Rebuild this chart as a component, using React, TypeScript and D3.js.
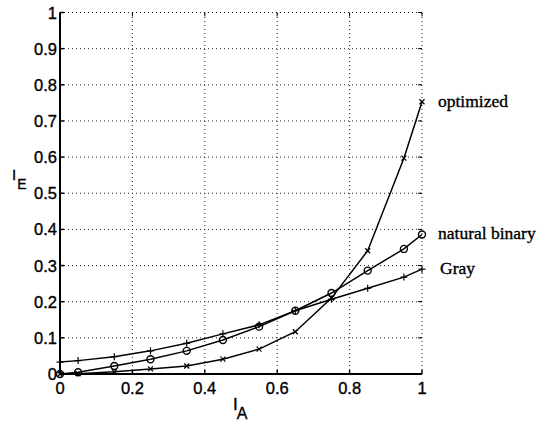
import React from "react";
import * as d3 from "d3";

// values
const xValues = [0, 0.05, 0.15, 0.25, 0.35, 0.45, 0.55, 0.65, 0.75, 0.85, 0.95, 1];
const grayValues = [0.033, 0.037, 0.048, 0.064, 0.085, 0.111, 0.136, 0.175, 0.207, 0.237, 0.268, 0.29];
const naturalValues = [0, 0.005, 0.022, 0.041, 0.064, 0.094, 0.131, 0.175, 0.224, 0.286, 0.346, 0.386];
const optimizedValues = [0, 0.001, 0.006, 0.014, 0.022, 0.041, 0.069, 0.117, 0.21, 0.341, 0.597, 0.753];
const xTicks = [0, 0.2, 0.4, 0.6, 0.8, 1];
const yTicks = [0, 0.1, 0.2, 0.3, 0.4, 0.5, 0.6, 0.7, 0.8, 0.9, 1];

const width = 544;
const height = 421;
const margin = { top: 12.5, right: 122, bottom: 47, left: 60 };

const App = () => {
  const x = d3.scaleLinear().domain([0, 1]).range([margin.left, width - margin.right]);
  const y = d3.scaleLinear().domain([0, 1]).range([height - margin.bottom, margin.top]);

  const line = d3
    .line<number>()
    .x((_, i) => x(xValues[i]))
    .y((d) => y(d));

  const tickFont = "'Liberation Sans', Arial, sans-serif";
  const labelFont = "'Liberation Serif', 'Times New Roman', serif";
  const x0 = x(0), x1 = x(1), y0 = y(0), y1 = y(1);
  // scanned print looks a bit heavier than regular type
  const heavy = { stroke: "#000", strokeWidth: 0.35 };

  return (
    <svg
      width={width}
      height={height}
      style={{ position: "absolute", left: 0, top: 0, background: "#fff" }}
    >
      {/* grid */}
      {xTicks.filter((t) => t > 0).map((t) => (
        <line key={"gx" + t} x1={x(t)} x2={x(t)} y1={y0} y2={y1}
          stroke="#222" strokeWidth={1} strokeDasharray="1,3" />
      ))}
      {yTicks.filter((t) => t > 0).map((t) => (
        <line key={"gy" + t} x1={x0} x2={x1} y1={y(t)} y2={y(t)}
          stroke="#222" strokeWidth={1} strokeDasharray="1,3" />
      ))}

      {/* axes */}
      <line x1={x0} x2={x0} y1={y0} y2={y1} stroke="#000" strokeWidth={2} />
      <line x1={x0} x2={x1} y1={y0} y2={y0} stroke="#000" strokeWidth={2} />
      {xTicks.map((t) => (
        <g key={"tx" + t}>
          <line x1={x(t)} x2={x(t)} y1={y0} y2={y0 - 4} stroke="#000" strokeWidth={1.5} />
          <line x1={x(t)} x2={x(t)} y1={y1} y2={y1 + 4} stroke="#000" strokeWidth={1} />
          <text x={x(t)} y={y0 + 20} textAnchor="middle" fontFamily={tickFont} fontSize={16.5} {...heavy}>
            {String(t)}
          </text>
        </g>
      ))}
      {yTicks.map((t) => (
        <g key={"ty" + t}>
          <line x1={x0} x2={x0 + 4} y1={y(t)} y2={y(t)} stroke="#000" strokeWidth={1.5} />
          <line x1={x1} x2={x1 - 4} y1={y(t)} y2={y(t)} stroke="#000" strokeWidth={1} />
          <text x={x0 - 3} y={y(t) + 6} textAnchor="end" fontFamily={tickFont} fontSize={16.5} {...heavy}>
            {String(t)}
          </text>
        </g>
      ))}

      {/* axis labels */}
      <text x={233} y={410} fontFamily={tickFont} fontSize={17} {...heavy}>
        I<tspan dx={-1} dy={9} fontSize={16}>A</tspan>
      </text>
      <text x={12} y={180} fontFamily={tickFont} fontSize={15} {...heavy}>
        I<tspan dx={1} dy={9} fontSize={14}>E</tspan>
      </text>

      {/* curves */}
      {[grayValues, naturalValues, optimizedValues].map((vals, k) => (
        <path key={"l" + k} d={line(vals) || ""} fill="none" stroke="#000" strokeWidth={1.5} />
      ))}

      {/* markers */}
      {grayValues.map((v, i) => (
        <g key={"p" + i} stroke="#000" strokeWidth={1.2}>
          <line x1={x(xValues[i]) - 3.5} x2={x(xValues[i]) + 3.5} y1={y(v)} y2={y(v)} />
          <line x1={x(xValues[i])} x2={x(xValues[i])} y1={y(v) - 3.5} y2={y(v) + 3.5} />
        </g>
      ))}
      {naturalValues.map((v, i) => (
        <circle key={"c" + i} cx={x(xValues[i])} cy={y(v)} r={3.5}
          fill="none" stroke="#000" strokeWidth={1.4} />
      ))}
      {optimizedValues.map((v, i) => (
        <g key={"x" + i} stroke="#000" strokeWidth={1.2}>
          <line x1={x(xValues[i]) - 2.5} x2={x(xValues[i]) + 2.5} y1={y(v) - 2.5} y2={y(v) + 2.5} />
          <line x1={x(xValues[i]) - 2.5} x2={x(xValues[i]) + 2.5} y1={y(v) + 2.5} y2={y(v) - 2.5} />
        </g>
      ))}

      {/* series labels */}
      <text x={438} y={y(0.753) + 5} fontFamily={labelFont} fontSize={17.5} {...heavy}>optimized</text>
      <text x={438} y={y(0.386) + 5} fontFamily={labelFont} fontSize={17.5} {...heavy}>natural binary</text>
      <text x={440} y={y(0.29) + 5} fontFamily={labelFont} fontSize={17.5} {...heavy}>Gray</text>
    </svg>
  );
};

export default App;
